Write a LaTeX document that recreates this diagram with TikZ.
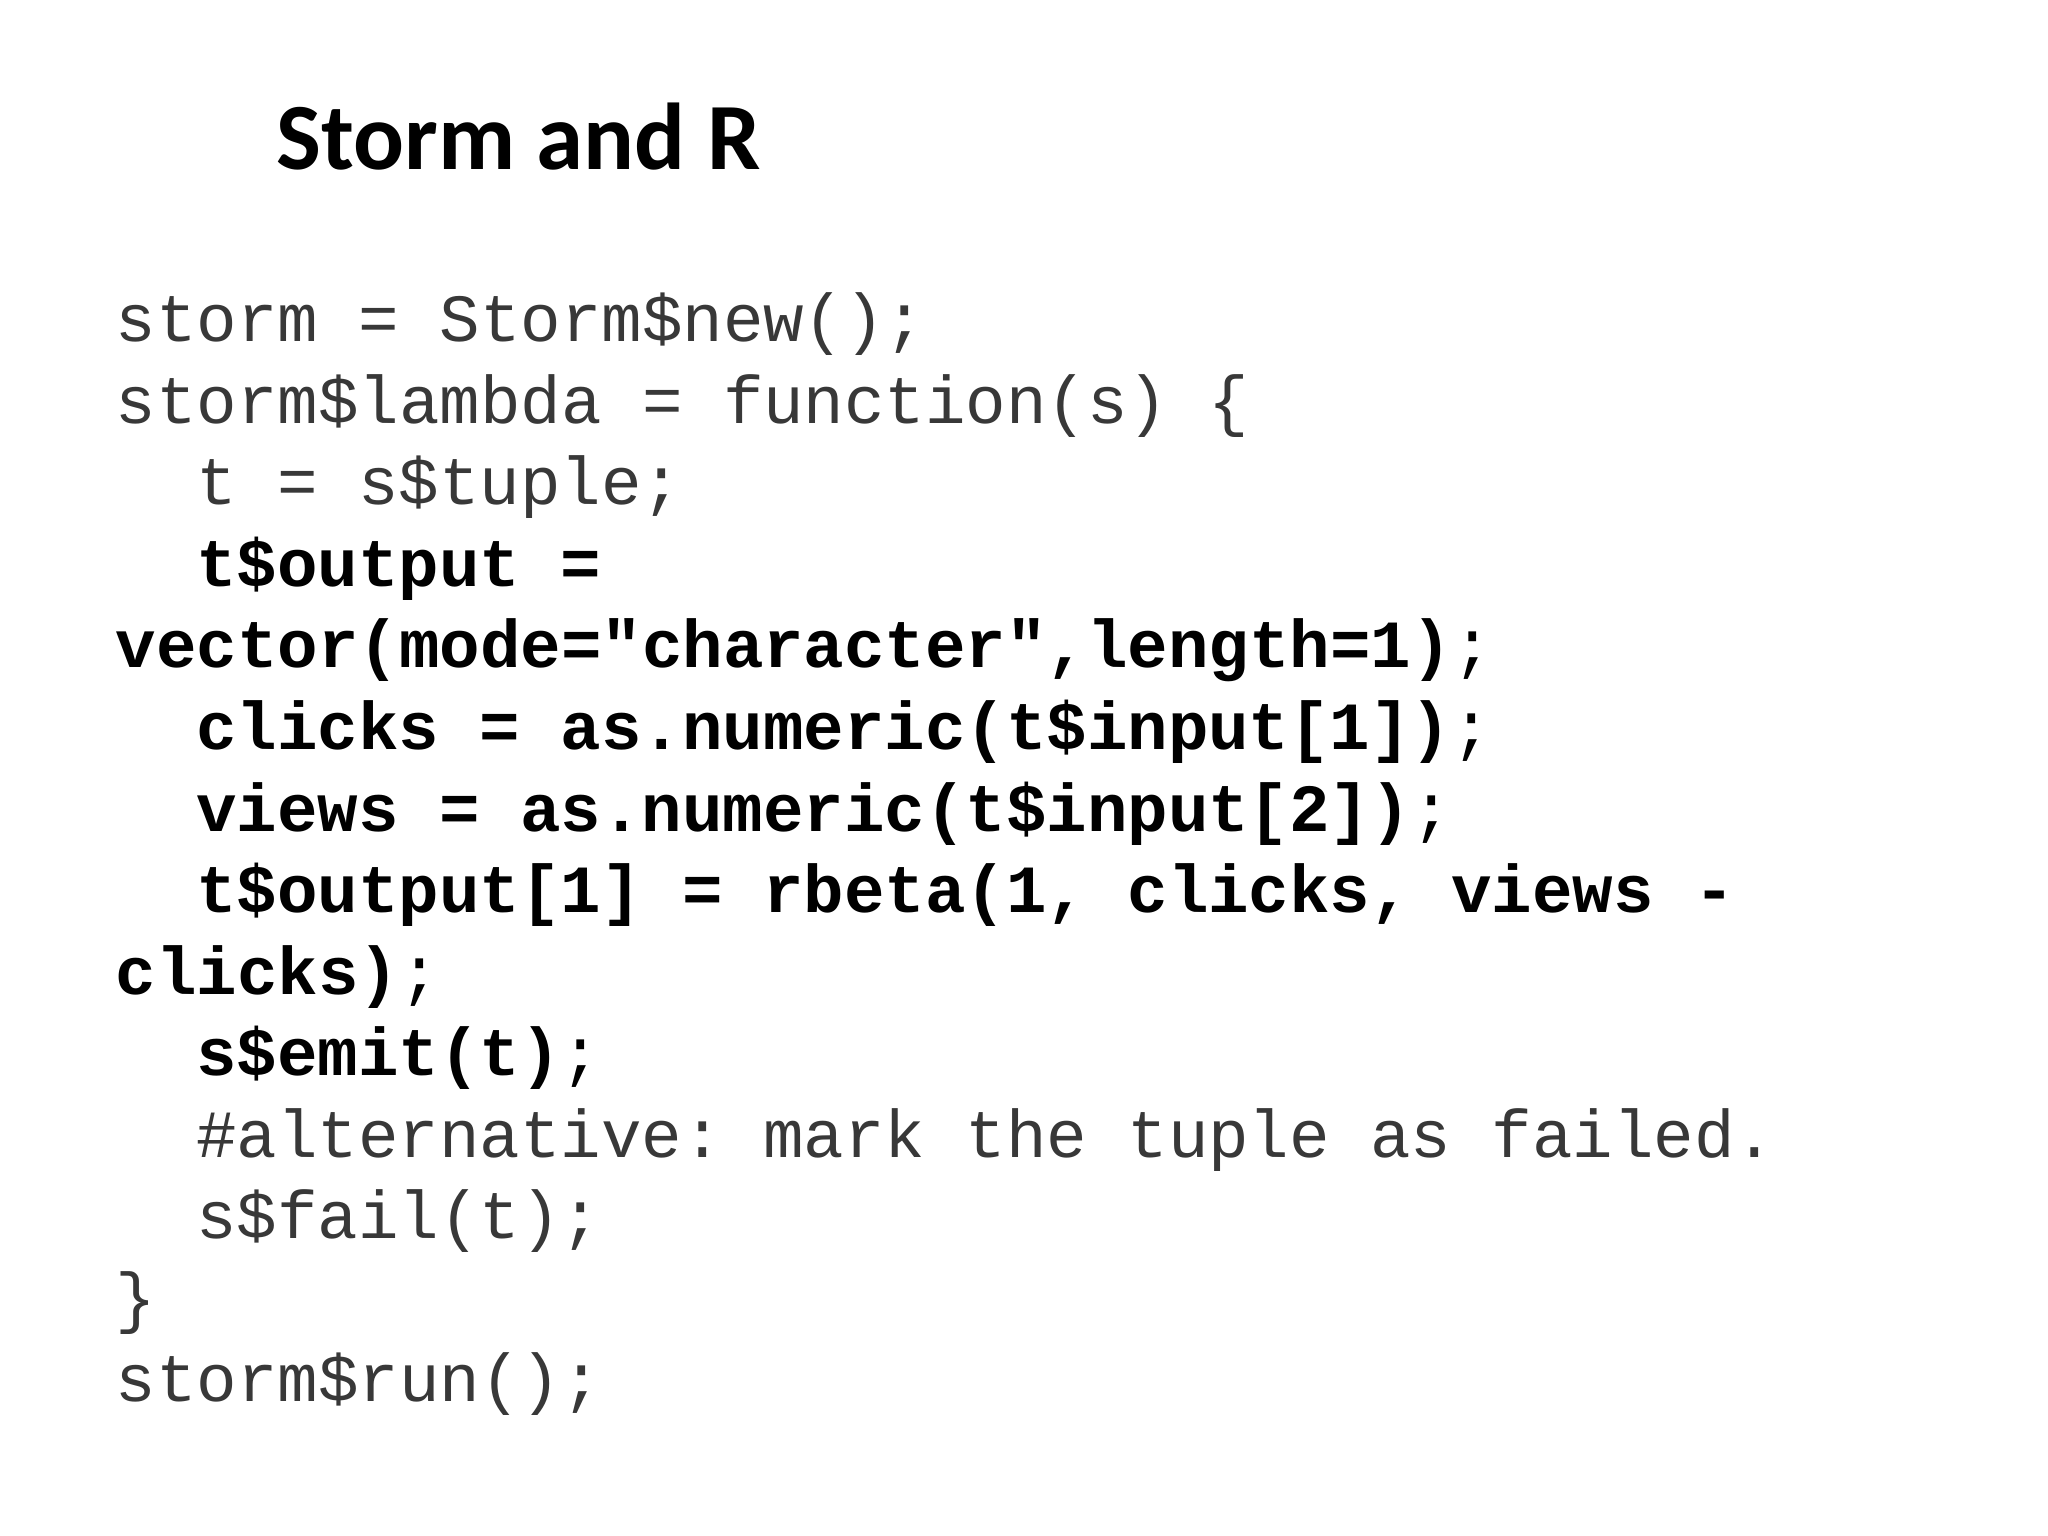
\documentclass[tikz,border=0pt]{standalone}
\usepackage{fontspec}
\setmonofont{Liberation Mono}
\newfontfamily\titlefont{Carlito}
\begin{document}
\begin{tikzpicture}[x=1cm,y=1cm,
  codeline/.style={anchor=base west,inner sep=0pt,font=\ttfamily\fontsize{19.2pt}{23pt}\selectfont,text=black!78},
  boldline/.style={codeline,text=black,font=\ttfamily\bfseries\fontsize{19.2pt}{23pt}\selectfont}]
\useasboundingbox (0,0) rectangle (20.48,-15.36);
\fill[white] (0,0) rectangle (20.48,-15.36);
\node[anchor=base west,inner sep=0pt,font=\titlefont\bfseries\fontsize{27pt}{32pt}\selectfont] (title) at (2.76,-1.70) {Storm and R};
\def\L{1.15}\def\I{1.956}
\node[codeline] (l0) at (\L,-3.42) {storm = Storm\$new();};
\node[codeline] (l1) at (\L,-4.235) {storm\$lambda = function(s) \{};
\node[codeline] (l2) at (\I,-5.05) {t = s\$tuple;};
\node[boldline] (l3) at (\I,-5.865) {t\$output =};
\node[boldline] (l4) at (\L,-6.68) {vector(mode="character",length=1)\textmd{;}};
\node[boldline] (l5) at (\I,-7.495) {clicks = as.numeric(t\$input[1])\textmd{;}};
\node[boldline] (l6) at (\I,-8.31) {views = as.numeric(t\$input[2])\textmd{;}};
\node[boldline] (l7) at (\I,-9.125) {t\$output[1] = rbeta(1, clicks, views -};
\node[boldline] (l8) at (\L,-9.94) {clicks)\textmd{;}};
\node[boldline] (l9) at (\I,-10.755) {s\$emit(t)\textmd{;}};
\node[codeline] (l10) at (\I,-11.57) {\#alternative: mark the tuple as failed.};
\node[codeline] (l11) at (\I,-12.385) {s\$fail(t);};
\node[codeline] (l12) at (\L,-13.20) {\}};
\node[codeline] (l13) at (\L,-14.015) {storm\$run();};
\end{tikzpicture}
\end{document}
